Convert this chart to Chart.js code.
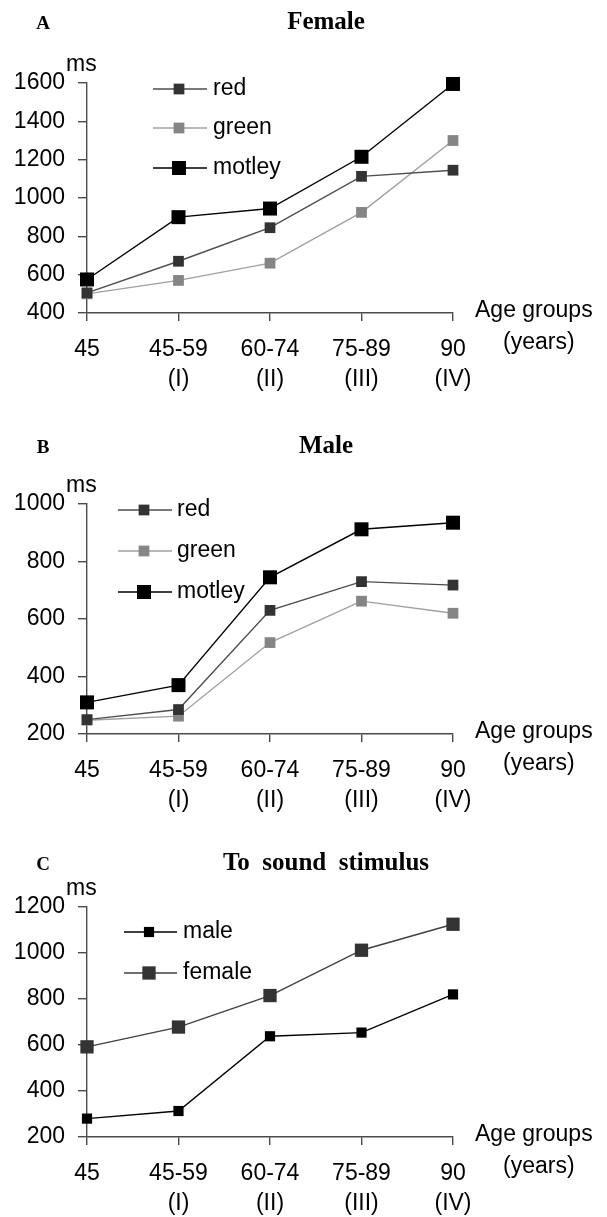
<!DOCTYPE html>
<html>
<head>
<meta charset="utf-8">
<script src="https://cdn.jsdelivr.net/npm/chart.js@4.4.1/dist/chart.umd.min.js"></script>
<style>
  html, body { margin: 0; padding: 0; background: #fff; }
  #wrap { position: relative; width: 607px; height: 1217px; }
  canvas { position: absolute; left: 0; }
</style>
</head>
<body>
<div id="wrap">
  <canvas id="panelA" width="607" height="400" style="top:0px"></canvas>
  <canvas id="panelB" width="607" height="400" style="top:421px"></canvas>
  <canvas id="panelC" width="607" height="393" style="top:824px"></canvas>
</div>
<script>
// ---- data ----
const ageGroups = [['45', ''], ['45-59', '(I)'], ['60-74', '(II)'], ['75-89', '(III)'], ['90', '(IV)']];

// A: female, reaction time to colour stimulus (ms)
const femaleRed    = [505, 670, 845, 1113, 1145];
const femaleGreen  = [500, 570, 660, 925, 1300];
const femaleMotley = [575, 900, 945, 1215, 1595];

// B: male
const maleRed    = [250, 285, 630, 730, 718];
const maleGreen  = [248, 262, 518, 662, 620];
const maleMotley = [310, 370, 745, 912, 935];

// C: to sound stimulus
const soundMale   = [280, 313, 638, 654, 820];
const soundFemale = [592, 678, 815, 1012, 1125];

// y ranges (min, max) per panel
const yRangeA = [400, 1600];
const yRangeB = [200, 1000];
const yRangeC = [200, 1200];

// ---- drawing ----
const SANS = '"Liberation Sans", Arial, sans-serif';
const SERIF = '"Liberation Serif", "Times New Roman", serif';
const FS = 23;
const AXIS = '#4a4a4a';
const PLOT = { top: 83, bottom: 313, left: 87, right: 453 };

function series(label, data, line, marker, radius) {
  return {
    label, data,
    borderColor: line, borderWidth: 1.4,
    pointStyle: 'rect', pointRadius: radius, pointHoverRadius: radius,
    pointBackgroundColor: marker, pointBorderWidth: 0,
    tension: 0, clip: false
  };
}

// side of a Chart.js 'rect' point for a given radius
const rectSide = r => 2 * Math.SQRT1_2 * r;

const decorPlugin = {
  id: 'decor',
  afterDraw(chart, args, o) {
    const ctx = chart.ctx;
    const area = chart.chartArea;
    ctx.save();
    ctx.fillStyle = '#000';
    ctx.textBaseline = 'middle';

    ctx.textAlign = 'center';
    ctx.font = 'bold 19px ' + SERIF;
    ctx.fillText(o.letter, 43, o.letterY);
    ctx.font = 'bold 25px ' + SERIF;
    ctx.fillText(o.title, 326, o.titleY);

    ctx.textAlign = 'left';
    ctx.font = FS + 'px ' + SANS;
    ctx.fillText('ms', 66, area.top - 18);
    ctx.fillText('Age groups', 475, area.bottom - 2);
    ctx.fillText('(years)', 503, area.bottom + 30);

    // legend: line with the marker in its middle
    const lg = o.legend;
    chart.data.datasets.forEach((ds, i) => {
      const y = area.top + lg.dy[i];
      ctx.strokeStyle = ds.borderColor;
      ctx.lineWidth = ds.borderWidth;
      ctx.beginPath();
      ctx.moveTo(lg.x1, y);
      ctx.lineTo(lg.x2, y);
      ctx.stroke();
      const s = rectSide(ds.pointRadius);
      ctx.fillStyle = ds.pointBackgroundColor;
      ctx.fillRect(lg.xm - s / 2, y - s / 2, s, s);
      ctx.fillStyle = '#000';
      ctx.fillText(ds.label, lg.tx, y);
    });
    ctx.restore();
  }
};

function makePanel(id, datasets, yRange, decor) {
  const canvas = document.getElementById(id);
  const H = canvas.height;
  return new Chart(canvas, {
    type: 'line',
    data: { labels: ageGroups, datasets },
    plugins: [decorPlugin],
    options: {
      responsive: false,
      animation: false,
      layout: { padding: { top: PLOT.top, right: 607 - PLOT.right, left: 0, bottom: 0 } },
      plugins: {
        legend: { display: false },
        tooltip: { enabled: false },
        decor
      },
      scales: {
        x: {
          offset: false,
          afterFit: s => { s.height = H - PLOT.bottom; },
          border: { color: AXIS, width: 1.4 },
          grid: { drawOnChartArea: false, drawTicks: true, tickLength: 8, color: AXIS, lineWidth: 1.4 },
          ticks: {
            color: '#000', padding: 14, maxRotation: 0, autoSkip: false,
            font: { family: SANS, size: FS, lineHeight: '30px' }
          }
        },
        y: {
          min: yRange[0], max: yRange[1],
          afterFit: s => { s.width = PLOT.left; },
          border: { color: AXIS, width: 1.4 },
          grid: { drawOnChartArea: false, drawTicks: true, tickLength: 9, color: AXIS, lineWidth: 1.4 },
          ticks: {
            stepSize: 200, color: '#000', padding: 13,
            callback: v => String(v),
            font: { family: SANS, size: FS }
          }
        }
      }
    }
  });
}

makePanel('panelA', [
  series('red', femaleRed, '#4d4d4d', '#333333', 7.6),
  series('green', femaleGreen, '#a0a0a0', '#858585', 7.6),
  series('motley', femaleMotley, '#000000', '#000000', 9.9)
], yRangeA, {
  letter: 'A', letterY: 24, title: 'Female', titleY: 23,
  legend: { x1: 153, x2: 207, xm: 179, tx: 213, dy: [6, 45, 85] }
});

makePanel('panelB', [
  series('red', maleRed, '#4d4d4d', '#333333', 7.6),
  series('green', maleGreen, '#a0a0a0', '#858585', 7.6),
  series('motley', maleMotley, '#000000', '#000000', 9.9)
], yRangeB, {
  letter: 'B', letterY: 27, title: 'Male', titleY: 26,
  legend: { x1: 118, x2: 172, xm: 144, tx: 177, dy: [6, 47, 88] }
});

makePanel('panelC', [
  series('male', soundMale, '#000000', '#000000', 7.2),
  series('female', soundFemale, '#404040', '#333333', 9.4)
], yRangeC, {
  letter: 'C', letterY: 41, title: 'To  sound  stimulus', titleY: 40,
  legend: { x1: 124, x2: 177, xm: 149, tx: 183, dy: [25, 66] }
});
</script>
</body>
</html>
